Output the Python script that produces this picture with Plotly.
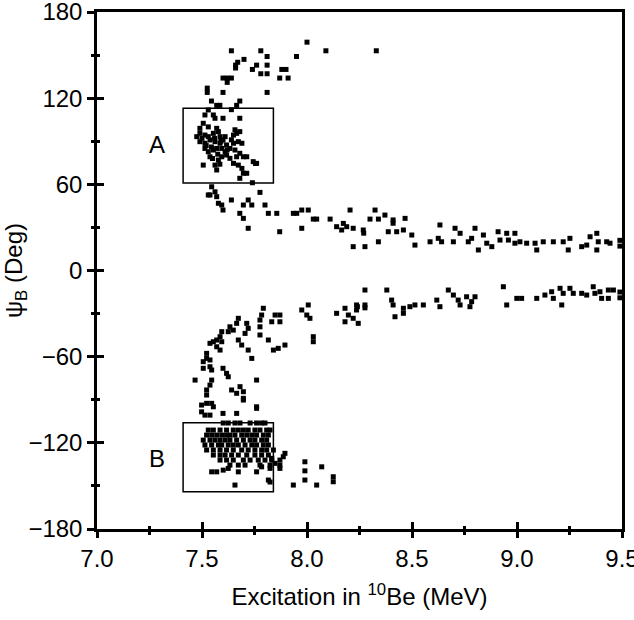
import plotly.graph_objects as go

# ---------------- data (Excitation MeV, psi_B deg) ----------------
upper_arc_x = [8.00, 7.64, 7.78, 8.09, 8.33, 7.81, 7.95, 7.67, 7.70, 7.66, 7.66, 7.76, 7.74, 7.81,
               7.88, 7.90, 7.78, 7.81, 7.87, 7.91, 7.60, 7.62, 7.64, 7.62, 7.525, 7.525, 7.60, 7.81,
               7.545, 7.57, 7.585, 7.68, 7.665, 7.64]
upper_arc_y = [159, 153, 153, 153, 153, 149, 149, 145, 147, 141, 143, 143, 140, 143,
               140, 140, 137, 137, 134, 134, 134, 134, 134, 131, 127, 124, 124, 124,
               118, 115, 115, 118, 115, 112]

box_a_pts_x = [7.53, 7.514, 7.554, 7.562, 7.60, 7.68, 7.506, 7.53, 7.49, 7.57, 7.657, 7.68,
               7.475, 7.49, 7.514, 7.53, 7.554, 7.578, 7.586, 7.61, 7.65, 7.665,
               7.49, 7.514, 7.538, 7.562, 7.586, 7.60, 7.617, 7.65, 7.673, 7.69,
               7.514, 7.53, 7.554, 7.57, 7.594, 7.61, 7.633, 7.657, 7.68,
               7.538, 7.578, 7.594, 7.617, 7.633, 7.665, 7.697, 7.713,
               7.65, 7.673, 7.744, 7.755, 7.76, 7.506, 7.562, 7.57, 7.69, 7.697, 7.713, 7.68, 7.74,
               7.50, 7.52, 7.545, 7.56, 7.575, 7.59, 7.62, 7.64, 7.55, 7.585]
box_a_pts_y = [111.8, 108.3, 108.3, 106, 106, 106, 102.5, 100, 99, 99, 98, 96.7,
               93.2, 95.5, 94.3, 93.2, 95.5, 96.7, 93.2, 93.2, 94.3, 95.5,
               89.7, 88.6, 90.9, 89.7, 88.6, 90.9, 87.4, 88.6, 89.7, 88.6,
               85, 82.7, 83.9, 85, 85, 82.7, 85, 83.9, 81.6,
               79.2, 76.9, 79.2, 80.4, 78.1, 79.2, 79.2, 79.2,
               74.6, 73.4, 75.8, 74.5, 74.6, 73.4, 73.4, 70, 71.1, 67.7, 67.7, 64.2, 61.1,
               92, 87, 86, 92, 81, 90, 84, 91, 78, 74]

upper_branch_x = [7.776, 7.546, 7.562, 7.538, 7.57, 7.64, 7.72, 7.53, 7.578, 7.60, 7.594, 7.697,
                  7.737, 7.80, 7.68, 7.697, 7.816, 7.856, 7.72, 7.87, 7.935, 7.951, 7.975, 8.006,
                  8.03, 8.046, 7.975, 8.11, 8.205, 8.324, 8.141, 8.173, 8.165, 8.189, 8.22,
                  8.268, 8.27, 8.30, 8.34, 8.22, 8.276, 8.34, 8.371, 8.41, 8.41, 8.387, 8.427,
                  8.467, 8.459, 8.499, 8.514, 8.586, 8.625, 8.641, 8.633, 8.697, 8.705, 8.729,
                  8.768, 8.80, 8.784, 8.816, 8.84, 8.856, 8.88, 8.91, 8.919, 8.951, 8.959, 8.99,
                  8.99, 9.014, 9.046, 9.086, 9.094, 9.125, 9.173, 9.22, 9.244, 9.252, 9.308,
                  9.332, 9.348, 9.38, 9.387, 9.38, 9.427, 9.443, 9.49, 9.49]
upper_branch_y = [54.4, 58.3, 54.8, 52.6, 51.4, 49.1, 49.1, 52.6, 46.8, 42.1, 45.6, 45.6,
                  45.6, 45.6, 39.8, 36.3, 39.8, 39.8, 29.4, 27, 39.8, 39.8, 42.1, 42.1,
                  35.8, 35.8, 29.4, 35.8, 42.1, 42.1, 30.5, 32.8, 28.2, 30.5, 29.4,
                  28.2, 26, 35.8, 35.8, 16.6, 16.6, 20, 38.6, 35.2, 32.9, 27, 27,
                  36.3, 28.2, 24.7, 17.7, 20, 22.4, 20, 31.7, 20, 29.4, 25.9,
                  20, 29.4, 22.4, 14.3, 24.7, 19, 16.6, 27, 21.2, 25.9, 21.2, 25.9,
                  19, 20, 19, 19, 14.3, 20, 20, 20, 14.3, 22.4, 16.6,
                  17.7, 23.5, 25.9, 20, 14.3, 20, 19, 17, 21]

lower_branch_x = [8.276, 8.276, 8.276, 8.38, 8.403, 8.41, 8.419, 8.459, 8.459, 8.49, 8.514,
                  8.554, 8.618, 8.633, 8.673, 8.697, 8.72, 8.729, 8.76, 8.80, 8.776, 8.784,
                  8.935, 8.951, 8.999, 9.022, 9.094, 9.133, 9.165, 9.173, 9.205, 9.213,
                  9.22, 9.252, 9.268, 9.308, 9.332, 9.363, 9.371, 9.395, 9.403, 9.435, 9.435,
                  9.459, 9.49, 9.49, 8.24, 8.236, 8.236, 8.141, 8.181, 8.197, 8.181, 8.22,
                  8.244, 8.006, 7.975, 7.999, 8.014, 8.03, 8.03]
lower_branch_y = [-13.6, -24, -26, -13.6, -20.6, -24, -32.2, -26.3, -29.8, -25.2, -24,
                  -24, -20.6, -25.2, -13.6, -17.1, -20.6, -24, -18.3, -18.3, -25.2, -21.7,
                  -11.3, -24, -19.4, -19.4, -19.4, -17.1, -14.8, -19.4, -12.4, -24,
                  -15.9, -12.4, -15.9, -15.9, -17.1, -11.3, -15.9, -14.8, -19.4, -13.6, -19.4,
                  -13.6, -15, -19, -25.2, -24, -27.5, -29.8, -26.3, -31, -35.7, -33.3,
                  -36.8, -24, -27.5, -31, -33.3, -46.1, -49.6]

lower_arc_x = [7.792, 7.784, 7.776, 7.848, 7.871, 7.832, 7.871, 7.776, 7.776, 7.816, 7.895,
               7.863, 7.84, 7.673, 7.665, 7.633, 7.649, 7.625, 7.713, 7.72, 7.705, 7.594,
               7.586, 7.57, 7.594, 7.554, 7.538, 7.57, 7.586, 7.673, 7.689, 7.72, 7.737,
               7.522, 7.522, 7.538, 7.506, 7.538, 7.506, 7.546, 7.60, 7.617, 7.625, 7.467,
               7.546, 7.538, 7.522, 7.522, 7.76, 7.641, 7.665, 7.681, 7.697, 7.697, 7.498,
               7.522, 7.546, 7.554, 7.76, 7.498, 7.514, 7.538, 7.60, 7.665, 7.76, 7.697]
lower_arc_y = [-26.3, -31, -34.5, -31, -31, -35.7, -35.7, -39.2, -44.9, -48.4, -51.9,
               -54.2, -55.4, -33.3, -36.8, -39.2, -41.5, -42.6, -36.8, -40.3, -43.8, -42.6,
               -46.1, -48.4, -49.6, -49.6, -50.7, -53.1, -55.4, -48.4, -51.9, -55.4, -61.2,
               -57.7, -61.2, -62.3, -63.5, -67, -68.1, -69.3, -68.1, -71.6, -74, -76.3,
               -76.3, -79.8, -83.2, -86.7, -76.3, -83.2, -85.5, -80.9, -84.4, -89, -93.7,
               -92.5, -92.5, -94.9, -94.9, -98.4, -100.7, -100.7, -99.5, -99.5, -96, -90.2]

box_b_x = [7.601, 7.625, 7.657, 7.681, 7.729, 7.76, 7.784, 7.80,
           7.53, 7.554, 7.586, 7.617, 7.649, 7.673, 7.697, 7.72, 7.752, 7.776, 7.808, 7.824,
           7.522, 7.546, 7.57, 7.594, 7.617, 7.633, 7.657, 7.689, 7.713, 7.737, 7.76, 7.792, 7.816,
           7.506, 7.538, 7.562, 7.586, 7.61, 7.633, 7.665, 7.697, 7.729, 7.752, 7.784, 7.808,
           7.514, 7.546, 7.578, 7.594, 7.625, 7.649, 7.673, 7.705, 7.737, 7.76, 7.792, 7.816,
           7.522, 7.554, 7.586, 7.617, 7.649, 7.689, 7.72, 7.752, 7.784, 7.808, 7.84,
           7.554, 7.586, 7.61, 7.641, 7.673, 7.713, 7.752, 7.784, 7.816,
           7.586, 7.617, 7.649, 7.697, 7.729, 7.768, 7.80, 7.832,
           7.633, 7.673, 7.705, 7.776, 7.824,
           7.546, 7.57, 7.601, 7.625, 7.673, 7.76, 7.784, 7.824, 7.871,
           7.895, 7.832, 7.871, 7.871, 7.887, 7.848, 7.657, 7.816, 7.824,
           7.99, 7.99, 7.99, 8.07, 7.935, 8.046, 8.125, 8.125]
box_b_y = [-106.2] * 8 + [-111.1] * 12 + [-114.6] * 13 + [-118.1] * 12 + [-121.5] * 12 + \
          [-125.0] * 11 + [-128.5] * 9 + [-132.0] * 8 + [-135.5] * 5 + \
          [-140.2, -140.2, -139, -137.8, -140.2, -140.2, -136.7, -137.8, -137.8,
           -127.3, -130.8, -132, -135.5, -129.7, -134.3, -149.4, -145.9, -147.3,
           -133.2, -139.5, -145.9, -136.7, -149.4, -149.4, -143.6, -147.1]

# boxes and labels
box_a_x = [7.41, 7.84]
box_a_y = [61, 113]
box_b_xr = [7.41, 7.84]
box_b_yr = [-154, -106]
label_text = ["A", "B"]
label_x = [7.285, 7.285]
label_y = [88, -131]

x_ticks = [7.0, 7.5, 8.0, 8.5, 9.0, 9.5]
x_tick_text = ["7.0", "7.5", "8.0", "8.5", "9.0", "9.5"]
y_ticks = [-180, -120, -60, 0, 60, 120, 180]
y_tick_text = ["\u2212180", "\u2212120", "\u221260", "0", "60", "120", "180"]

all_x = upper_arc_x + box_a_pts_x + upper_branch_x + lower_branch_x + lower_arc_x + box_b_x
all_y = upper_arc_y + box_a_pts_y + upper_branch_y + lower_branch_y + lower_arc_y + box_b_y

FONT = "Liberation Sans, Arial, Helvetica, sans-serif"
FS = 24

fig = go.Figure()
fig.add_trace(go.Scatter(x=all_x, y=all_y, mode="markers",
                         marker=dict(symbol="square", size=5, color="black", line=dict(width=0)),
                         showlegend=False))
# invisible trace to activate inner tick axes
fig.add_trace(go.Scatter(x=[None], y=[None], xaxis="x2", yaxis="y2", mode="markers",
                         showlegend=False, hoverinfo="skip"))

for bx, by in [(box_a_x, box_a_y), (box_b_xr, box_b_yr)]:
    fig.add_shape(type="rect", xref="x", yref="y", x0=bx[0], x1=bx[1], y0=by[0], y1=by[1],
                  line=dict(color="black", width=1.5), fillcolor="rgba(0,0,0,0)")

for t, lx, ly in zip(label_text, label_x, label_y):
    fig.add_annotation(x=lx, y=ly, xref="x", yref="y", text=t, showarrow=False,
                       font=dict(family=FONT, size=FS, color="black"))

common = dict(showgrid=False, zeroline=False, linecolor="black", linewidth=2.5,
              tickcolor="black", tickwidth=2.5, automargin=False, ticklabeloverflow="allow")

fig.update_layout(
    width=634, height=620,
    margin=dict(l=97, r=12, t=12, b=91),
    paper_bgcolor="white", plot_bgcolor="white",
    font=dict(family=FONT, size=FS, color="black"),
    xaxis=dict(range=[7.0, 9.5], tickmode="array", tickvals=x_ticks, ticktext=x_tick_text,
               ticks="outside", ticklen=6, mirror=True,
               minor=dict(dtick=0.25, ticks="outside", ticklen=3, tickwidth=2.5, tickcolor="black"),
               title=dict(text="Excitation in <sup>10</sup>Be (MeV)", standoff=18,
                          font=dict(size=FS)),
               tickfont=dict(size=FS), **common),
    yaxis=dict(range=[-180, 180], tickmode="array", tickvals=y_ticks, ticktext=y_tick_text,
               ticks="outside", ticklen=7, mirror=True,
               minor=dict(dtick=30, ticks="outside", ticklen=3, tickwidth=2.5, tickcolor="black"),
               title=dict(text="\u03c8<sub>B</sub> (Deg)", standoff=7, font=dict(size=FS)),
               tickfont=dict(size=FS), **common),
    xaxis2=dict(overlaying="x", range=[7.0, 9.5], tickmode="array", tickvals=x_ticks,
                ticks="inside", ticklen=7, showticklabels=False, showline=False,
                minor=dict(dtick=0.25, ticks="inside", ticklen=3, tickwidth=2.5, tickcolor="black"),
                showgrid=False, zeroline=False, tickcolor="black", tickwidth=2.5),
    yaxis2=dict(overlaying="y", range=[-180, 180], tickmode="array", tickvals=y_ticks,
                ticks="inside", ticklen=7, showticklabels=False, showline=False,
                minor=dict(dtick=30, ticks="inside", ticklen=3, tickwidth=2.5, tickcolor="black"),
                showgrid=False, zeroline=False, tickcolor="black", tickwidth=2.5),
)

fig.write_html("out.html", config={"displayModeBar": False},
               post_script="document.body.style.margin='0';document.body.style.overflow='hidden';")
